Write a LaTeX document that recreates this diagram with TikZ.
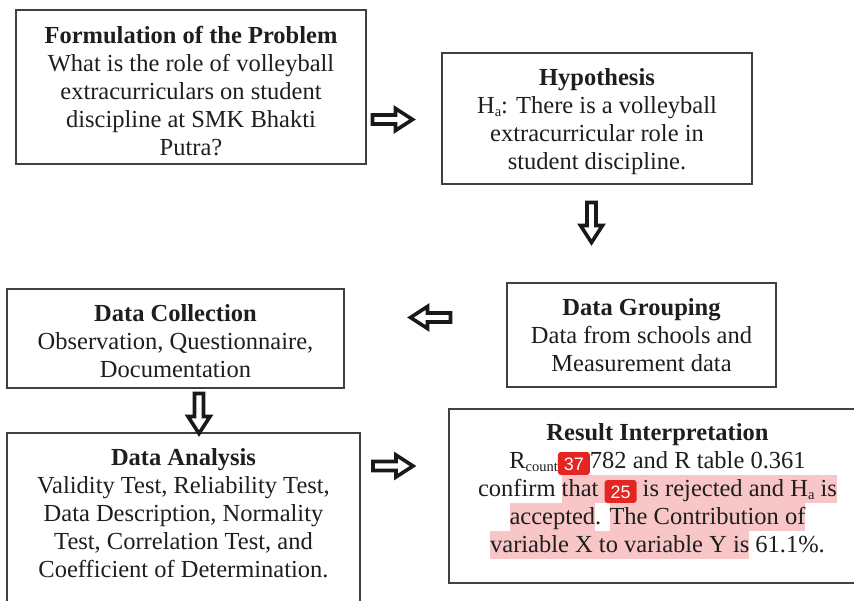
\documentclass[tikz,border=0pt]{standalone}
\usepackage{fontspec}
\setmainfont{Liberation Serif}
\newfontfamily\badgefont{Liberation Sans}
\definecolor{hlpink}{RGB}{248,198,198}
\definecolor{badgered}{RGB}{228,38,34}
\definecolor{inkc}{RGB}{30,30,30}
\newcommand\boxfont{\fontsize{24.5}{28}\selectfont}
\newcommand\topr[1]{\rule{0pt}{#1pt}}
\newcommand\botr[1]{\rule[-#1pt]{0pt}{#1pt}}
\newcommand\hl[1]{{\setlength{\fboxsep}{0pt}\colorbox{hlpink}{\rule[-7pt]{0pt}{28pt}#1}}}
\newcommand\subtx[1]{\raisebox{-3.5pt}{\fontsize{14.5}{15}\selectfont #1}}
\tikzset{
  box/.style={draw=black!75, line width=1.5pt, align=center, inner sep=0pt, text=inkc, font=\boxfont},
  badgebox/.style={draw=none, fill=badgered, rounded corners=3pt, text=white, inner xsep=6pt, inner ysep=5pt,
    text height=13pt, text depth=0pt, minimum width=0pt, minimum height=0pt, align=center, anchor=center,
    font=\badgefont\fontsize{18}{18}\selectfont},
  arrowline/.style={draw=black!90, line width=3.6pt, fill=white, line join=miter},
  barrow/.pic={\draw[arrowline] (-20,-4.5) -- (3,-4.5) -- (3,-11) -- (20,0) -- (3,11) -- (3,4.5) -- (-20,4.5) -- cycle;}
}
\newcommand\badge[1]{\raisebox{-7pt}{\tikz\node[badgebox]{#1};}}
\begin{document}
\begin{tikzpicture}[x=1pt,y=-1pt]
\clip (0,0) rectangle (854,600);
\fill[white] (0,0) rectangle (854,600);

\node[box, minimum width=350pt, minimum height=154pt] (form) at (191,87)
 {\topr{31}\textbf{Formulation of the Problem}\\What is the role of volleyball\\extracurriculars on student\\discipline at SMK Bhakti\\Putra?\botr{7}};

\node[box, minimum width=310pt, minimum height=131pt] (hyp) at (597,118.5)
 {\topr{24}\textbf{Hypothesis}\\H\subtx{a}: There is a volleyball\\extracurricular role in\\student discipline.\botr{7}};

\node[box, minimum width=269pt, minimum height=104pt] (group) at (641.5,335)
 {\topr{23}\textbf{Data Grouping}\\Data from schools and\\Measurement data\botr{7}};

\node[box, minimum width=337pt, minimum height=99pt] (coll) at (175.5,338.5)
 {\topr{28}\textbf{Data Collection}\\Observation, Questionnaire,\\Documentation\botr{7}};

\node[box, minimum width=353pt, minimum height=172pt] (anal) at (183.5,519)
 {\topr{17}\textbf{Data Analysis}\\Validity Test, Reliability Test,\\Data Description, Normality\\Test, Correlation Test, and\\Coefficient of Determination.\botr{13}};

\node[box, minimum width=417pt, minimum height=174pt] (res) at (657.5,496)
 {\topr{17}\textbf{Result Interpretation}\\R\subtx{count}\badge{37}782 and R table 0.361\\confirm \hl{that \badge{25} is rejected and H\subtx{a} is}\\\hl{accepted}. \hl{The Contribution of}\\\hl{variable X to variable Y is} 61.1\%.\botr{17}};

\pic at (392.5,119.5) {barrow};
\pic[rotate=-90] at (591.5,222.5) {barrow};
\pic[rotate=180] at (430.5,317.5) {barrow};
\pic[rotate=-90] at (199,413.5) {barrow};
\pic at (393,466) {barrow};
\end{tikzpicture}
\end{document}
